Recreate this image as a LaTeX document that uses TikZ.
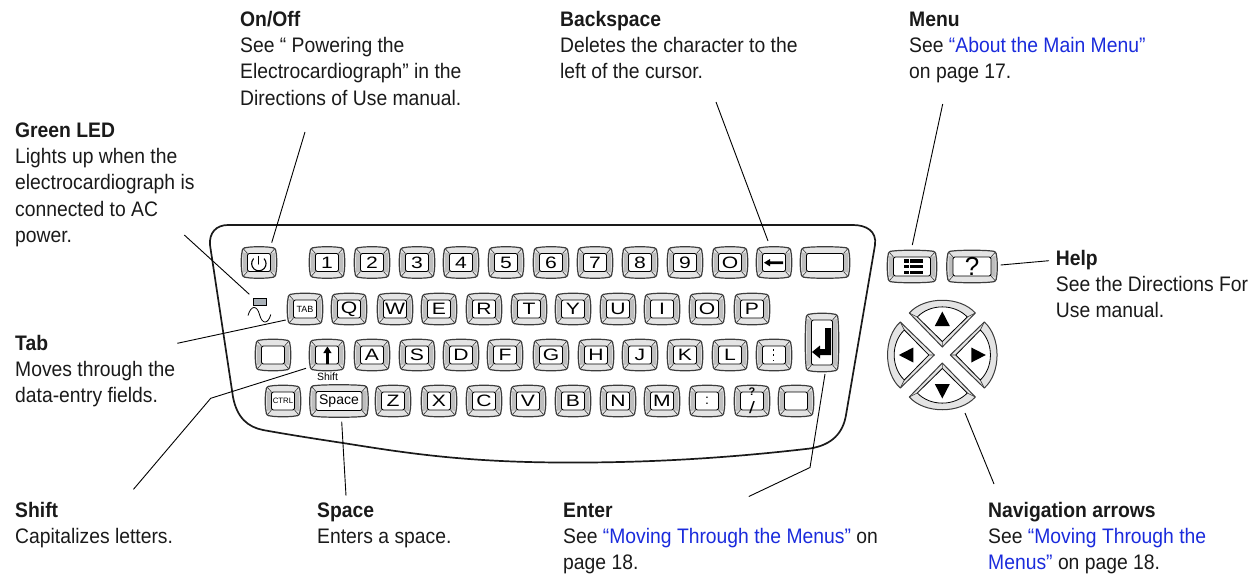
\documentclass[tikz,border=0pt]{standalone}
\usepackage{fontspec}
\setmainfont{Liberation Sans}[FakeStretch=0.92]
\newfontfamily\keyfont{Liberation Sans}[FakeStretch=1.28]
\newfontfamily\smallkeyfont{Liberation Sans}
\definecolor{linkblue}{HTML}{1A2BDC}
\definecolor{inkdark}{HTML}{1A1A1A}
\definecolor{keyedge}{HTML}{3C3C3C}
\definecolor{bandlight}{HTML}{E4E4E4}
\definecolor{bandside}{HTML}{BEBEBE}
\definecolor{ledgrey}{HTML}{A9B1B8}
\newcommand\hd[1]{\rule{0pt}{18pt}\textbf{#1}}
\newcommand\lnk[1]{\textcolor{linkblue}{#1}}
\tikzset{
  callout/.style={anchor=north west,inner sep=0pt,align=left,text=inkdark,font=\fontsize{21}{26.3}\selectfont},
  leader/.style={draw=black,line width=0.9pt},
  shell/.style={draw=inkdark,line width=1.7pt},
  keyanchor/.style={inner sep=0pt,outer sep=0pt,text=black,align=center,font=\keyfont\fontsize{16.5}{18}\selectfont},
  keyout/.style={draw=keyedge,line width=1.2pt,fill=bandlight},
  keyin/.style={draw=black,line width=0.9pt,fill=white,rounded corners=2pt},
  sidefill/.style={fill=bandside},
  glyph/.style={fill=black,draw=none},
  navout/.style={draw=keyedge,line width=1pt,fill=bandlight,line join=round},
  navin/.style={draw=black,line width=0.8pt,fill=white,line join=round},
}
% name, x, y, w, h, label
\newcommand\keycap[6]{%
  \pgfmathsetmacro\ka{#4/2}\pgfmathsetmacro\kb{#5/2}%
  \pgfmathsetmacro\kc{\ka-5.5}\pgfmathsetmacro\kd{\kb-6}%
  \pgfmathsetmacro\ke{\ka-5}\pgfmathsetmacro\kf{\kb-5}%
  \pgfmathsetmacro\kg{\ka/2}\pgfmathsetmacro\kh{\kb/2}%
  \pgfmathsetmacro\ki{\ka+1}\pgfmathsetmacro\kj{\kb+1}%
  \begin{scope}[shift={(#2,#3)}]
    \path[keyout] (-\ke,-\kb) .. controls (-\kg,-\kj) and (\kg,-\kj) .. (\ke,-\kb)
      .. controls (\ka-1.5,-\kb) and (\ka,-\kb+1.5) .. (\ka,-\kf)
      .. controls (\ki,-\kh) and (\ki,\kh) .. (\ka,\kf)
      .. controls (\ka,\kb-1.5) and (\ka-1.5,\kb) .. (\ke,\kb)
      .. controls (\kg,\kj) and (-\kg,\kj) .. (-\ke,\kb)
      .. controls (-\ka+1.5,\kb) and (-\ka,\kb-1.5) .. (-\ka,\kf)
      .. controls (-\ki,\kh) and (-\ki,-\kh) .. (-\ka,-\kf)
      .. controls (-\ka,-\kb+1.5) and (-\ka+1.5,-\kb) .. cycle;
    \path[sidefill] (-\ka+1,-\kf) -- (-\kc,-\kd) -- (-\kc,\kd) -- (-\ka+1,\kf) -- cycle;
    \path[sidefill] (\ka-1,-\kf) -- (\kc,-\kd) -- (\kc,\kd) -- (\ka-1,\kf) -- cycle;
    \draw[keyedge,line width=0.6pt] (-\ka+1.5,-\kb+1.5) -- (-\kc,-\kd) (\ka-1.5,-\kb+1.5) -- (\kc,-\kd)
      (-\ka+1.5,\kb-1.5) -- (-\kc,\kd) (\ka-1.5,\kb-1.5) -- (\kc,\kd);
    \path[keyin] (-\kc,-\kd) rectangle (\kc,\kd);
  \end{scope}
  \node[keyanchor,minimum width=#4pt,minimum height=#5pt] (#1) at (#2,#3) {#6};
}
% name, rotation
\newcommand\navbutton[2]{%
  \begin{scope}[shift={(942.3,355)},rotate=#2]
    \path[navout] (-33,-42) .. controls (-18,-59) and (18,-59) .. (33,-42) -- (0,-8) -- cycle;
    \draw[keyedge,line width=0.6pt] (-33,-42) -- (-25,-38) (33,-42) -- (25,-38) (0,-8) -- (0,-13.5);
    \path[navin] (-25,-38) .. controls (-12,-51.5) and (12,-51.5) .. (25,-38) -- (0,-13.5) -- cycle;
    \path[glyph] (0,-43.5) -- (-7.5,-29) -- (7.5,-29) -- cycle;
    \coordinate (#1) at (0,-30);
  \end{scope}
}
\begin{document}
\begin{tikzpicture}[x=1pt,y=-1pt]
\useasboundingbox (0,0) rectangle (1257,578);
% case
\draw[shell] (228,225) -- (853,225)
  .. controls (866,225) and (877,231) .. (875,245)
  -- (846,415)
  .. controls (843,433) and (832,445) .. (810,448.5)
  .. controls (720,459) and (640,463) .. (560,462.5)
  .. controls (460,462) and (400,452) .. (343,443)
  .. controls (310,438) and (285,434) .. (263,430)
  .. controls (248,427) and (237,418) .. (233,397)
  -- (210,245)
  .. controls (209,233) and (216,225) .. cycle;
% row 1
\keycap{kpower}{259}{262.5}{34}{30}{}
\keycap{kone}{327}{262.5}{34}{30}{1}
\keycap{ktwo}{372}{262.5}{34}{30}{2}
\keycap{kthree}{417}{262.5}{34}{30}{3}
\keycap{kfour}{461}{262.5}{34}{30}{4}
\keycap{kfive}{506}{262.5}{34}{30}{5}
\keycap{ksix}{551}{262.5}{34}{30}{6}
\keycap{kseven}{595}{262.5}{34}{30}{7}
\keycap{keight}{640}{262.5}{34}{30}{8}
\keycap{knine}{685}{262.5}{34}{30}{9}
\keycap{kzero}{730}{262.5}{34}{30}{O}
\keycap{kback}{774}{262.5}{34}{30}{}
\keycap{kblanka}{825}{262.5}{48}{30}{}
% row 2
\keycap{ktab}{305}{309}{34}{30}{\smallkeyfont\fontsize{9}{10}\selectfont TAB}
\keycap{kq}{349}{309}{34}{30}{Q}
\keycap{kw}{395}{309}{34}{30}{W}
\keycap{ke}{439}{309}{34}{30}{E}
\keycap{kr}{484}{309}{34}{30}{R}
\keycap{kt}{529}{309}{34}{30}{T}
\keycap{ky}{573}{309}{34}{30}{Y}
\keycap{ku}{618}{309}{34}{30}{U}
\keycap{ki}{662}{309}{34}{30}{I}
\keycap{ko}{707}{309}{34}{30}{O}
\keycap{kp}{752}{309}{34}{30}{P}
% row 3
\keycap{kblankb}{273}{355}{34}{30}{}
\keycap{kshift}{327}{355}{34}{30}{}
\keycap{ka}{372}{355}{34}{30}{A}
\keycap{ks}{417}{355}{34}{30}{S}
\keycap{kd}{461}{355}{34}{30}{D}
\keycap{kf}{505}{355}{34}{30}{F}
\keycap{kg}{551}{355}{34}{30}{G}
\keycap{kh}{596}{355}{34}{30}{H}
\keycap{kj}{640}{355}{34}{30}{J}
\keycap{kk}{685}{355}{34}{30}{K}
\keycap{kl}{730}{355}{34}{30}{L}
\keycap{kdots}{774}{355}{34}{30}{}
% row 4
\keycap{kctrl}{283}{401}{34}{30}{\smallkeyfont\fontsize{7.8}{10}\selectfont CTRL}
\keycap{kspace}{339}{401}{57}{31}{\smallkeyfont\fontsize{14}{16}\selectfont Space}
\keycap{kz}{393}{401}{34}{30}{Z}
\keycap{kx}{439}{401}{34}{30}{X}
\keycap{kc}{484}{401}{34}{30}{C}
\keycap{kv}{528}{401}{34}{30}{V}
\keycap{kb}{573}{401}{34}{30}{B}
\keycap{kn}{618}{401}{34}{30}{N}
\keycap{km}{662}{401}{34}{30}{M}
\keycap{kcolon}{707}{401}{34}{30}{\smallkeyfont\fontsize{14}{14}\selectfont :}
\keycap{kquest}{752}{401}{34}{30}{\smallkeyfont\fontsize{11}{10.5}\selectfont\textbf{?}\\/}
\keycap{kblankc}{796}{401}{34}{30}{}
% enter, menu, help
\keycap{kenter}{822}{342.5}{32}{57}{}
\keycap{kmenu}{912}{266.5}{48}{31}{}
\keycap{khelp}{972}{266.5}{49}{31}{\smallkeyfont\fontsize{26}{26}\selectfont ?}
% nav
\navbutton{navup}{0}
\navbutton{navright}{90}
\navbutton{navdown}{180}
\navbutton{navleft}{270}
% key glyphs
\draw[black,line width=1.1pt,line cap=round] (253.5,258.8) arc[start angle=222,end angle=-42,radius=7.2];
\draw[black,line width=1.1pt,line cap=round] (258.8,256.5) -- (258.8,264);
\path[glyph] (783,261.4) -- (770,261.4) -- (770,259) -- (764,262.7) -- (770,266.4) -- (770,264) -- (783,264) -- cycle;
\path[glyph] (326,364) -- (326,353) -- (323.3,353) -- (327.4,346.5) -- (331.5,353) -- (328.8,353) -- (328.8,364) -- cycle;
\path[glyph] (825,328) -- (831,328) -- (831,355) -- (820,355) -- (820,358.5) -- (812,352) -- (820,345.5) -- (820,349) -- (825,349) -- cycle;
\foreach \dy in {350,355,360.5} \path[glyph] (772.6,\dy-0.9) rectangle (774.2,\dy+0.9);
\foreach \dy in {259,264.8,270.6} {
  \path[glyph] (904,\dy) rectangle (908.5,\dy+3.6);
  \path[glyph] (910,\dy) rectangle (923,\dy+3.6);
}
% LED
\node[draw=black,line width=0.4pt,fill=ledgrey,minimum width=13pt,minimum height=6.5pt,inner sep=0pt] (led) at (259.4,301.6) {};
\draw[black,line width=0.8pt] (248,315.5) .. controls (251,305) and (257,305) .. (259.5,314.5) .. controls (262,324.5) and (268,324.5) .. (270.8,314.5);
\node[inner sep=0pt,text=black,font=\smallkeyfont\fontsize{10.5}{12}\selectfont] (shiftlabel) at (327.5,377) {Shift};
% leader ends
\coordinate (onA) at (305,132); \coordinate (onB) at (271.7,242.7);
\coordinate (bkA) at (716,102); \coordinate (bkB) at (768,241);
\coordinate (mnA) at (942.7,104); \coordinate (mnB) at (912.3,245);
\coordinate (hpA) at (1049,260.7); \coordinate (hpB) at (1000.7,265);
\coordinate (ldA) at (184.3,235); \coordinate (ldB) at (249.3,294.3);
\coordinate (tbA) at (177.3,343.3); \coordinate (tbB) at (285.7,320);
\coordinate (shA) at (133.5,489.3); \coordinate (shK) at (210.7,398.3); \coordinate (shB) at (306,368.3);
\coordinate (spA) at (346,495.7); \coordinate (spB) at (341.7,421.7);
\coordinate (enA) at (748.8,496.5); \coordinate (enK) at (810,467.5); \coordinate (enB) at (825,374);
\coordinate (nvA) at (994,484); \coordinate (nvB) at (965,413);
\draw[leader] (onA) -- (onB);
\draw[leader] (bkA) -- (bkB);
\draw[leader] (mnA) -- (mnB);
\draw[leader] (hpA) -- (hpB);
\draw[leader] (ldA) -- (ldB);
\draw[leader] (tbA) -- (tbB);
\draw[leader] (shA) -- (shK) -- (shB);
\draw[leader] (spA) -- (spB);
\draw[leader] (enA) -- (enK) -- (enB);
\draw[leader] (nvA) -- (nvB);
% callouts (y = first baseline - 18)
\node[callout] (tonoff) at (240,8) {\hd{On/Off}\\See “ Powering the\\Electrocardiograph” in the\\Directions of Use manual.};
\node[callout] (tback) at (560,8) {\hd{Backspace}\\Deletes the character to the\\left of the cursor.};
\node[callout] (tmenu) at (909,8) {\hd{Menu}\\See \lnk{“About the Main Menu”}\\on page 17.};
\node[callout] (tled) at (15,119) {\hd{Green LED}\\Lights up when the\\electrocardiograph is\\connected to AC\\power.};
\node[callout] (thelp) at (1055.7,247) {\hd{Help}\\See the Directions For\\Use manual.};
\node[callout] (ttab) at (15,332) {\hd{Tab}\\Moves through the\\data-entry fields.};
\node[callout] (tshift) at (15,499) {\hd{Shift}\\Capitalizes letters.};
\node[callout] (tspace) at (317,499) {\hd{Space}\\Enters a space.};
\node[callout] (tenter) at (563,499) {\hd{Enter}\\See \lnk{“Moving Through the Menus”} on\\page 18.};
\node[callout] (tnav) at (988,499) {\hd{Navigation arrows}\\See \lnk{“Moving Through the}\\\lnk{Menus”} on page 18.};
\end{tikzpicture}
\end{document}
